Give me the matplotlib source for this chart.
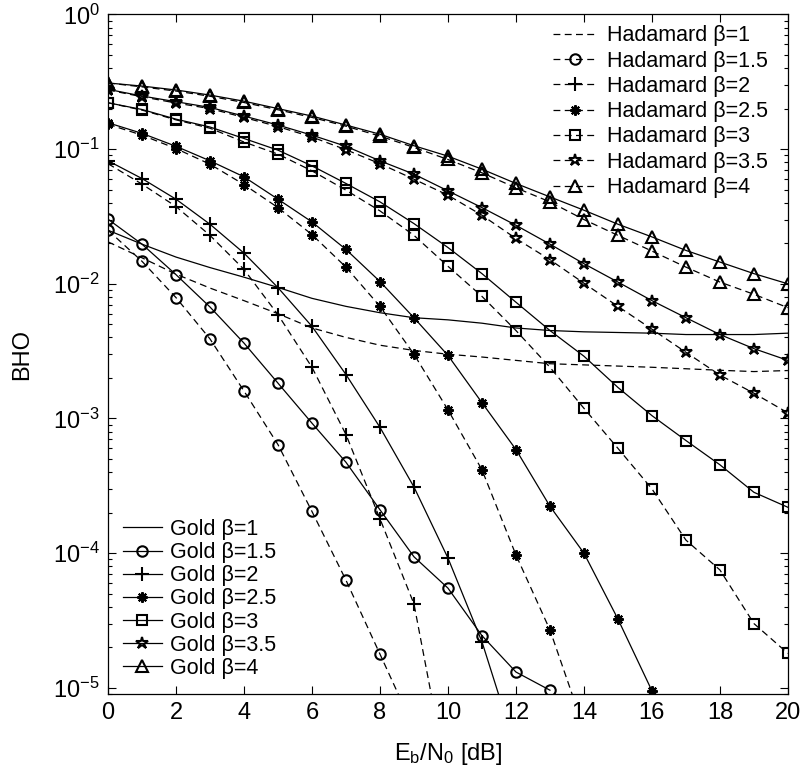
import numpy as np
import matplotlib
matplotlib.use("Agg")
import matplotlib.pyplot as plt
from matplotlib.ticker import LogLocator, NullFormatter

plt.rcParams["font.family"] = ["Liberation Sans", "DejaVu Sans"]
plt.rcParams["mathtext.fontset"] = "custom"
plt.rcParams["mathtext.rm"] = "Liberation Sans"
plt.rcParams["mathtext.it"] = "Liberation Sans"
plt.rcParams["mathtext.default"] = "regular"

nan = np.nan

# Eb/N0 [dB]
snr = np.arange(0, 21)

# Gold codes (solid lines)
gold_b1 = [0.025, 0.0197, 0.0158, 0.0132, 0.0112, 0.0094, 0.0078, 0.0068, 0.0061, 0.0056, 0.0054,
           0.0051, 0.0047, 0.0045, 0.0044, 0.00435, 0.0043, 0.0042, 0.0042, 0.0042, 0.0043]
gold_b15 = [0.0302, 0.0197, 0.0117, 0.00673, 0.00363, 0.00183, 0.000923, 0.000473, 0.00021, 9.4e-5, 5.5e-5,
            2.44e-5, 1.31e-5, 9.6e-6, nan, nan, nan, nan, nan, nan, nan]
gold_b2 = [0.082, 0.0605, 0.0425, 0.0277, 0.0169, 0.00937, 0.00483, 0.00212, 0.00086, 0.00031, 9.2e-5,
           2.2e-5, 3.5e-6, nan, nan, nan, nan, nan, nan, nan, nan]
gold_b25 = [0.157, 0.131, 0.105, 0.0819, 0.0623, 0.0425, 0.0288, 0.018, 0.0104, 0.0056, 0.00294,
            0.00131, 0.000588, 0.000223, 0.0001, 3.24e-5, 9.5e-6, nan, nan, nan, nan]
gold_b3 = [0.221, 0.197, 0.167, 0.146, 0.12, 0.0983, 0.0751, 0.0556, 0.0406, 0.028, 0.0186,
           0.0119, 0.0073, 0.0045, 0.0029, 0.0017, 0.00105, 0.000686, 0.000453, 0.000283, 0.000219]
gold_b35 = [0.278, 0.248, 0.225, 0.204, 0.176, 0.151, 0.127, 0.105, 0.0819, 0.0652, 0.049,
            0.0368, 0.0272, 0.0197, 0.0141, 0.0103, 0.0075, 0.0056, 0.0042, 0.0033, 0.0027]
gold_b4 = [0.31, 0.294, 0.275, 0.252, 0.227, 0.2, 0.176, 0.151, 0.129, 0.106, 0.0887,
           0.071, 0.0556, 0.0442, 0.0352, 0.0277, 0.0223, 0.0177, 0.0145, 0.0119, 0.01]

# Hadamard codes (dashed lines)
had_b1 = [0.0205, 0.0156, 0.0118, 0.0093, 0.0075, 0.006, 0.0047, 0.004, 0.0035, 0.0032, 0.003,
          0.00286, 0.0027, 0.00255, 0.0025, 0.00245, 0.0024, 0.00234, 0.00228, 0.00223, 0.00227]
had_b15 = [0.025, 0.0147, 0.0079, 0.0039, 0.0016, 0.00064, 0.000204, 6.3e-5, 1.78e-5, 5e-6, nan,
           nan, nan, nan, nan, nan, nan, nan, nan, nan, nan]
had_b2 = [0.078, 0.055, 0.0375, 0.0229, 0.0128, 0.0059, 0.0024, 0.00076, 0.00018, 4.2e-5, 2e-6,
          nan, nan, nan, nan, nan, nan, nan, nan, nan, nan]
had_b25 = [0.153, 0.127, 0.101, 0.0773, 0.0546, 0.0368, 0.0232, 0.0133, 0.0068, 0.003, 0.00116,
           0.000416, 9.7e-5, 2.69e-5, 5e-6, nan, nan, nan, nan, nan, nan]
had_b3 = [0.221, 0.195, 0.165, 0.143, 0.113, 0.0918, 0.069, 0.0496, 0.0348, 0.0229, 0.0135,
          0.00807, 0.0045, 0.0024, 0.00119, 0.0006, 0.0003, 0.000125, 7.5e-5, 3e-5, 1.8e-5]
had_b35 = [0.275, 0.245, 0.22, 0.2, 0.172, 0.147, 0.123, 0.099, 0.078, 0.0598, 0.0455,
           0.0323, 0.0217, 0.0151, 0.0101, 0.0068, 0.0046, 0.0031, 0.0021, 0.00154, 0.0011]
had_b4 = [0.31, 0.29, 0.27, 0.247, 0.222, 0.196, 0.172, 0.148, 0.125, 0.103, 0.0838,
          0.0667, 0.0516, 0.0406, 0.03, 0.0229, 0.0175, 0.0133, 0.0103, 0.00836, 0.00665]

betas = ["1", "1.5", "2", "2.5", "3", "3.5", "4"]
gold = [gold_b1, gold_b15, gold_b2, gold_b25, gold_b3, gold_b35, gold_b4]
had = [had_b1, had_b15, had_b2, had_b25, had_b3, had_b35, had_b4]

asterisk = (8, 2, 0)
markers = [None, "o", "+", asterisk, "s", "*", "^"]
msizes = [0, 7.5, 10, 7.5, 7.5, 9, 9]

fig = plt.figure(figsize=(8.04, 7.78), dpi=100)
ax = fig.add_axes([0.1343, 0.108, 0.8457, 0.8734])

had_lines = []
gold_lines = []
for b, yh, yg, m, ms in zip(betas, had, gold, markers, msizes):
    lh, = ax.plot(snr, yh, color="black", lw=0.9, linestyle=(0, (5.5, 3.5)),
                  marker=m, ms=ms, mfc="none", mec="black", mew=1.5,
                  label=f"Hadamard β={b}")
    lg, = ax.plot(snr, yg, color="black", lw=0.9, linestyle="-",
                  marker=m, ms=ms, mfc="none", mec="black", mew=1.5,
                  label=f"Gold β={b}")
    had_lines.append(lh)
    gold_lines.append(lg)

ax.set_yscale("log")
ax.set_xlim(0, 20)
ax.set_ylim(9e-6, 1)
ax.set_xticks(np.arange(0, 21, 2))
ax.yaxis.set_major_locator(LogLocator(base=10, numticks=10))
ax.yaxis.set_minor_locator(LogLocator(base=10, subs=np.arange(2, 10), numticks=10))
ax.yaxis.set_minor_formatter(NullFormatter())

ax.tick_params(which="both", direction="in", top=True, right=True, labelsize=17, pad=6)
ax.tick_params(which="major", length=5.5, width=0.8)
ax.tick_params(which="minor", length=3, width=0.8)
for s in ax.spines.values():
    s.set_linewidth(0.9)

ax.set_xlabel(r"$\mathregular{E_b/N_0}$ [dB]", fontsize=17, labelpad=12)
ax.set_ylabel("BHO", fontsize=17, labelpad=14)

leg_kw = dict(frameon=False, fontsize=15.5, handletextpad=0.4, borderpad=0.2)
leg1 = ax.legend(handles=had_lines, loc="upper right", bbox_to_anchor=(0.986, 1.0),
                 borderaxespad=0.3, handlelength=2.1, labelspacing=0.2, **leg_kw)
ax.add_artist(leg1)
ax.legend(handles=gold_lines, loc="lower left", borderaxespad=0.5,
          handlelength=1.8, labelspacing=0.1, **leg_kw)

fig.savefig("out.png", dpi=100)
